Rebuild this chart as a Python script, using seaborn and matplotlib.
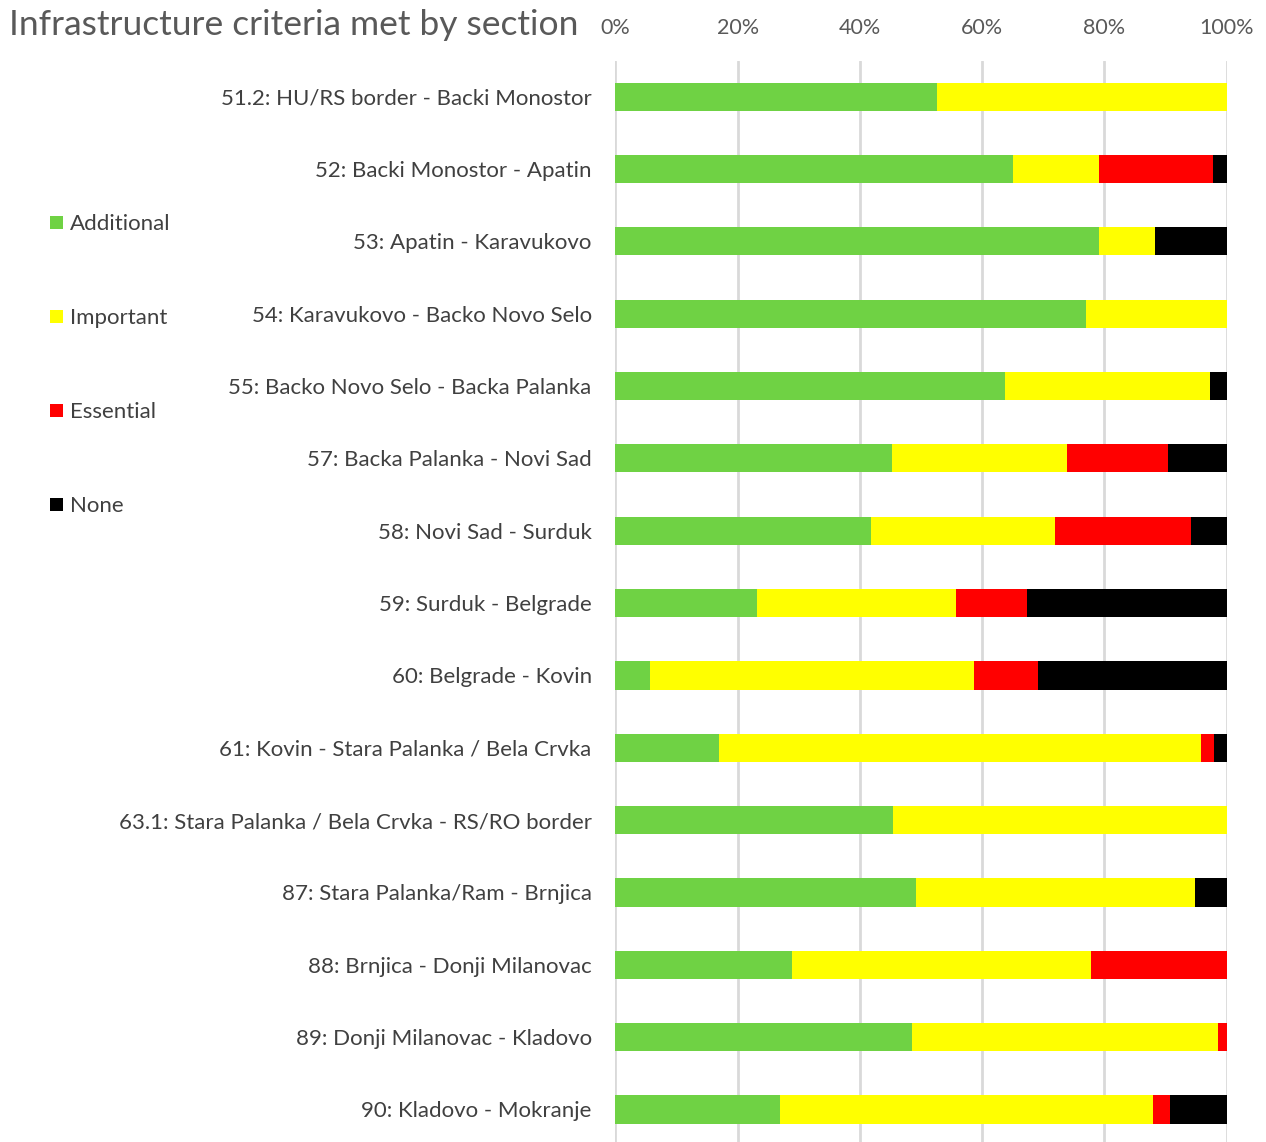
#!/usr/bin/env python3
"""
plot.py - stacked 100% bars of infrastructure criteria met by section
"""
import pandas as pd
import matplotlib
matplotlib.use("Agg")
import matplotlib.pyplot as plt
from matplotlib.patches import Patch
import seaborn as sns

sections = [
    "51.2: HU/RS border - Backi Monostor",
    "52: Backi Monostor - Apatin",
    "53: Apatin - Karavukovo",
    "54: Karavukovo - Backo Novo Selo",
    "55: Backo Novo Selo - Backa Palanka",
    "57: Backa Palanka - Novi Sad",
    "58: Novi Sad - Surduk",
    "59: Surduk - Belgrade",
    "60: Belgrade - Kovin",
    "61: Kovin - Stara Palanka / Bela Crvka",
    "63.1: Stara Palanka / Bela Crvka - RS/RO border",
    "87: Stara Palanka/Ram - Brnjica",
    "88: Brnjica - Donji Milanovac",
    "89: Donji Milanovac - Kladovo",
    "90: Kladovo - Mokranje",
]
# shares in percent
additional = [52.6, 65.0, 79.1, 77.0, 63.7, 45.3, 41.8, 23.2, 5.7, 17.0, 45.4, 49.2, 28.9, 48.5, 27.0]
important = [47.4, 14.1, 9.1, 23.0, 33.5, 28.6, 30.1, 32.5, 53.0, 78.8, 54.6, 45.6, 48.9, 50.0, 60.9]
essential = [0.0, 18.6, 0.0, 0.0, 0.0, 16.5, 22.2, 11.6, 10.4, 2.1, 0.0, 0.0, 22.2, 1.5, 2.8]
none = [100 - a - i - e for a, i, e in zip(additional, important, essential)]

categories = ["Additional", "Important", "Essential", "None"]
colors = {"Additional": "#6FD244", "Important": "#FFFF00",
          "Essential": "#FF0000", "None": "#000000"}


def main():
    df = pd.DataFrame({"section": sections, "Additional": additional,
                       "Important": important, "Essential": essential,
                       "None": none})
    # cumulative ends so the layered bars look stacked
    cum = df[categories].cumsum(axis=1)

    sns.set_style("white")
    plt.rcParams["font.family"] = ["Lato", "DejaVu Sans"]

    fig = plt.figure(figsize=(12.66, 11.42), dpi=100)
    ax = fig.add_axes([0.486, 0.0, 0.483, 0.947])

    for cat in reversed(categories):
        sns.barplot(x=cum[cat], y=df["section"], orient="h", color=colors[cat],
                    width=0.39, saturation=1, edgecolor="none", ax=ax)

    ax.set_xlim(0, 100)
    ax.set_ylim(14.45, -0.5)
    ax.set_xticks(range(0, 101, 20))
    ax.set_xticklabels([f"{t}%" for t in range(0, 101, 20)])
    ax.xaxis.tick_top()
    ax.tick_params(axis="x", length=0, pad=16, labelsize=15.5, labelcolor="#595959")
    ax.tick_params(axis="y", length=0, pad=17, labelsize=16, labelcolor="#404040")
    ax.grid(axis="x", color="#D9D9D9", linewidth=2)
    ax.set_axisbelow(True)
    for s in ax.spines.values():
        s.set_visible(False)
    ax.set_xlabel("")
    ax.set_ylabel("")

    fig.text(0.007, 0.978, "Infrastructure criteria met by section",
             fontsize=25.5, color="#595959", va="center", ha="left")

    handles = [Patch(facecolor=colors[c], edgecolor="none", label=c) for c in categories]
    leg = fig.legend(handles=handles, loc="upper left", bbox_to_anchor=(0.024, 0.83),
                     frameon=False, fontsize=16, labelspacing=3.33,
                     handlelength=0.55, handleheight=0.55, handletextpad=0.35)
    for t in leg.get_texts():
        t.set_color("#404040")

    fig.savefig("out.png", dpi=100)
    print("Wrote: out.png")


if __name__ == "__main__":
    main()
